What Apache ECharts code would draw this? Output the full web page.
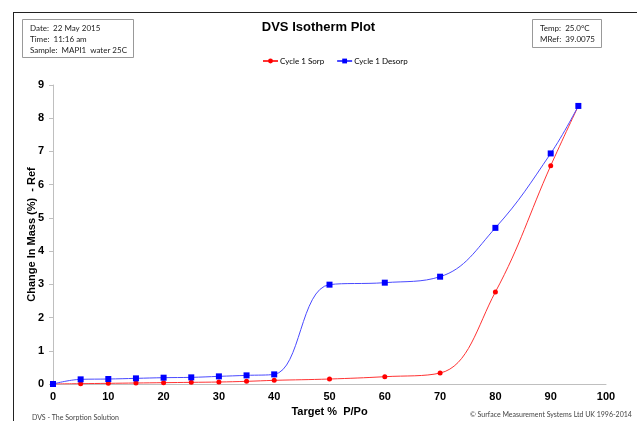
<!DOCTYPE html>
<html>
<head>
<meta charset="utf-8">
<script src="https://cdn.jsdelivr.net/npm/echarts@6/dist/echarts.min.js"></script>
<style>
  html, body { margin: 0; padding: 0; background: #fff; }
  #chart { width: 637px; height: 421px; }
</style>
</head>
<body>
<div id="chart"></div>
<script>
// target P/Po (%)
const targets = [0, 5, 10, 15, 20, 25, 30, 35, 40, 50, 60, 70, 80, 90, 95]
const sorp = [0, 0.01, 0.02, 0.03, 0.04, 0.05, 0.06, 0.08, 0.11, 0.15, 0.22, 0.33, 2.77, 6.57, 8.37]
const desorp = [0, 0.14, 0.15, 0.17, 0.19, 0.2, 0.23, 0.26, 0.29, 2.99, 3.05, 3.23, 4.7, 6.94, 8.37]

const infoLeft = ['Date:  22 May 2015', 'Time:  11:16 am', 'Sample:  MAPI1  water 25C']
const infoRight = ['Temp:  25.0°C', 'MRef:  39.0075']

const labelFont = '"Liberation Sans", Arial, sans-serif'
const noteFont = 'Lato, "Open Sans", sans-serif'

const chart = echarts.init(document.getElementById('chart'))

chart.setOption({
    animation: false,
    title: {
        text: 'DVS Isotherm Plot',
        left: 'center',
        top: 16,
        textStyle: { fontFamily: labelFont, fontSize: 13, fontWeight: 'bold', color: '#000' },
    },
    legend: {
        top: 52,
        left: 257,
        itemWidth: 15,
        itemHeight: 6,
        itemGap: 12,
        textStyle: { fontFamily: noteFont, fontSize: 8, color: '#000', padding: [0, 0, 0, -3] },
        data: ['Cycle 1 Sorp', 'Cycle 1 Desorp'],
    },
    grid: { left: 53, right: 31, top: 85, bottom: 37, outerBoundsMode: 'none' },
    xAxis: {
        type: 'value',
        min: 0,
        max: 100,
        interval: 10,
        name: 'Target %  P/Po',
        nameLocation: 'middle',
        nameGap: 21,
        nameTextStyle: { fontFamily: labelFont, fontSize: 11, fontWeight: 'bold', color: '#000' },
        axisLine: { lineStyle: { color: '#bfbfbf', width: 1 } },
        axisTick: { show: false },
        axisLabel: { fontFamily: labelFont, fontSize: 11, fontWeight: 'bold', color: '#000', margin: 7 },
        splitLine: { show: false },
    },
    yAxis: {
        type: 'value',
        min: 0,
        max: 9,
        interval: 1,
        name: 'Change In Mass (%)  - Ref',
        nameLocation: 'middle',
        nameRotate: 90,
        nameGap: 16,
        nameMoveOverlap: false,
        nameTextStyle: { fontFamily: labelFont, fontSize: 11, fontWeight: 'bold', color: '#000' },
        axisLine: { show: true, lineStyle: { color: '#bfbfbf', width: 1 } },
        axisTick: { show: true, inside: false, length: 4, lineStyle: { color: '#bfbfbf' } },
        axisLabel: { fontFamily: labelFont, fontSize: 11, fontWeight: 'bold', color: '#000', margin: 9 },
        splitLine: { show: false },
    },
    series: [
        {
            name: 'Cycle 1 Sorp',
            type: 'line',
            smooth: 0.4,
            symbol: 'circle',
            symbolSize: 5,
            color: '#ff0000',
            lineStyle: { width: 1, color: '#ff3333' },
            itemStyle: { color: '#ff0000' },
            data: targets.map((t, i) => [t, sorp[i]]),
            z: 2,
        },
        {
            name: 'Cycle 1 Desorp',
            type: 'line',
            smooth: 0.4,
            symbol: 'rect',
            symbolSize: 6,
            color: '#0000ff',
            lineStyle: { width: 1, color: '#4a4aff' },
            itemStyle: { color: '#0000ff' },
            data: targets.map((t, i) => [t, desorp[i]]),
            z: 3,
        },
    ],
    graphic: [
        // outer frame
        { type: 'line', shape: { x1: 13, y1: 12.5, x2: 637, y2: 12.5 }, style: { stroke: '#222', lineWidth: 1 } },
        { type: 'line', shape: { x1: 13.5, y1: 12, x2: 13.5, y2: 421 }, style: { stroke: '#222', lineWidth: 1 } },
        // info boxes
        { type: 'rect', shape: { x: 22.5, y: 19.5, width: 111, height: 38 }, style: { fill: '#fff', stroke: '#999', lineWidth: 1 } },
        {
            type: 'text', left: 30, top: 23,
            style: { text: infoLeft.join('\n'), fontFamily: noteFont, fontSize: 8, lineHeight: 11, fill: '#222' },
        },
        { type: 'rect', shape: { x: 532.5, y: 19.5, width: 69, height: 28 }, style: { fill: '#fff', stroke: '#999', lineWidth: 1 } },
        {
            type: 'text', left: 540, top: 23,
            style: { text: infoRight.join('\n'), fontFamily: noteFont, fontSize: 8, lineHeight: 11, fill: '#222' },
        },
        // footers
        {
            type: 'text', left: 32, top: 414,
            style: { text: 'DVS - The Sorption Solution', fontFamily: noteFont, fontSize: 7, fill: '#444' },
        },
        {
            type: 'text', left: 470, top: 411,
            style: { text: '© Surface Measurement Systems Ltd UK 1996-2014', fontFamily: noteFont, fontSize: 7, fill: '#444' },
        },
    ],
})
</script>
</body>
</html>
